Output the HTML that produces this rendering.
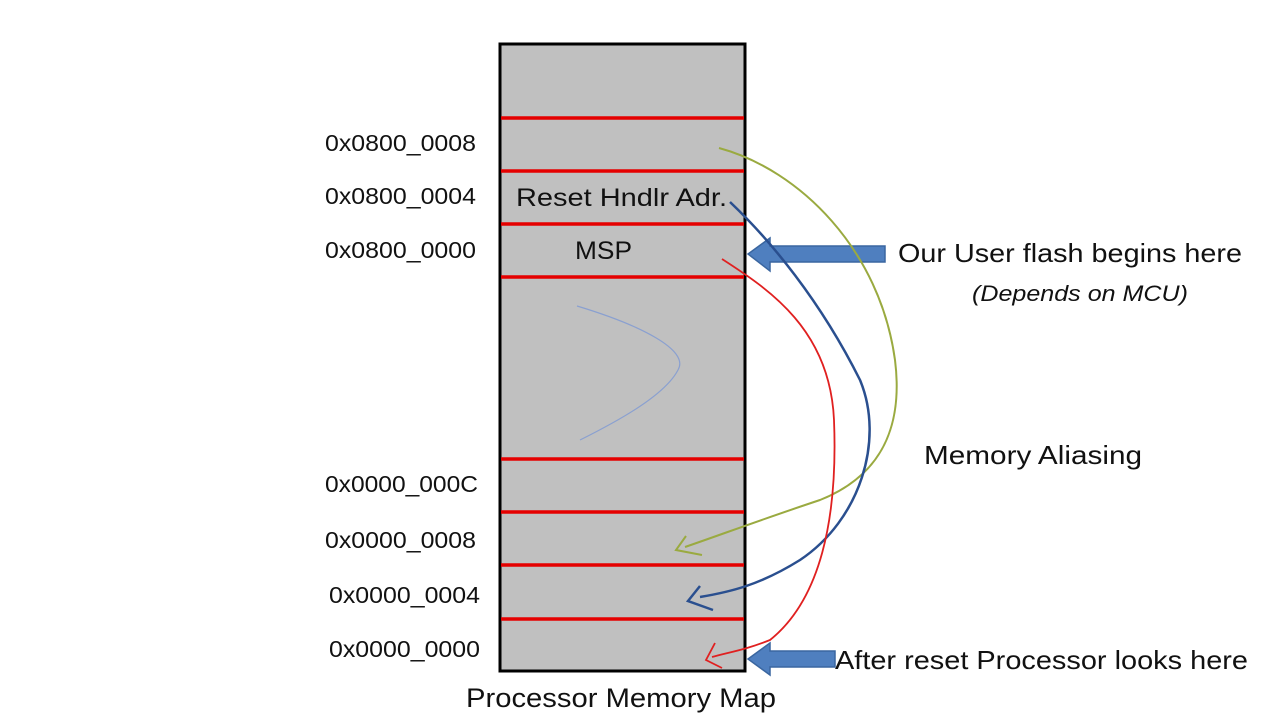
<!DOCTYPE html>
<html><head><meta charset="utf-8"><style>
body{margin:0;background:#fff;}
svg{display:block}
text{font-family:"Liberation Sans",sans-serif;fill:#111;}
</style></head><body>
<svg width="1280" height="719" viewBox="0 0 1280 719">
<rect x="0" y="0" width="1280" height="719" fill="#fff"/>
<rect x="500" y="44" width="245" height="627" fill="#c0c0c0" stroke="#000" stroke-width="3"/>
<g stroke="#e50000" stroke-width="3.5">
<line x1="501" y1="118" x2="744" y2="118"/>
<line x1="501" y1="171" x2="744" y2="171"/>
<line x1="501" y1="224" x2="744" y2="224"/>
<line x1="501" y1="277" x2="744" y2="277"/>
<line x1="501" y1="459" x2="744" y2="459"/>
<line x1="501" y1="512" x2="744" y2="512"/>
<line x1="501" y1="565" x2="744" y2="565"/>
<line x1="501" y1="619" x2="744" y2="619"/>
</g>
<g font-size="23" lengthAdjust="spacingAndGlyphs">
<text x="325" y="151" textLength="151" lengthAdjust="spacingAndGlyphs">0x0800_0008</text>
<text x="325" y="204" textLength="151" lengthAdjust="spacingAndGlyphs">0x0800_0004</text>
<text x="325" y="258" textLength="151" lengthAdjust="spacingAndGlyphs">0x0800_0000</text>
<text x="325" y="492" textLength="153" lengthAdjust="spacingAndGlyphs">0x0000_000C</text>
<text x="325" y="548" textLength="151" lengthAdjust="spacingAndGlyphs">0x0000_0008</text>
<text x="329" y="603" textLength="151" lengthAdjust="spacingAndGlyphs">0x0000_0004</text>
<text x="329" y="657" textLength="151" lengthAdjust="spacingAndGlyphs">0x0000_0000</text>
</g>
<text x="516" y="206" font-size="25" textLength="211" lengthAdjust="spacingAndGlyphs">Reset Hndlr Adr.</text>
<text x="575" y="259" font-size="25" textLength="57" lengthAdjust="spacingAndGlyphs">MSP</text>
<text x="898" y="262" font-size="26" textLength="344" lengthAdjust="spacingAndGlyphs">Our User flash begins here</text>
<text x="972" y="301" font-size="22" font-style="italic" textLength="216" lengthAdjust="spacingAndGlyphs">(Depends  on MCU)</text>
<text x="924" y="464" font-size="26" textLength="218" lengthAdjust="spacingAndGlyphs">Memory Aliasing</text>
<text x="835" y="669" font-size="26" textLength="413" lengthAdjust="spacingAndGlyphs">After reset Processor looks here</text>
<text x="466" y="707" font-size="27" textLength="310" lengthAdjust="spacingAndGlyphs">Processor Memory Map</text>
<!-- block arrows -->
<path d="M885,246 L770,246 L770,238 L748,254 L770,271 L770,262 L885,262 Z" fill="#4f7fbf" stroke="#3a66a0" stroke-width="1.5"/>
<path d="M835,651 L770,651 L770,643 L748,659 L770,675 L770,667 L835,667 Z" fill="#4f7fbf" stroke="#3a66a0" stroke-width="1.5"/>
<!-- hand drawn curves -->
<path d="M577,306 C640,325 690,350 678,370 C665,395 620,420 580,440" fill="none" stroke="#8aa0d0" stroke-width="1.2"/>
<path d="M719,148 C800,170 880,250 895,360 C905,440 870,480 820,500 C760,520 720,535 685,547 M686,536 L676,550 L702,555" fill="none" stroke="#9aaa40" stroke-width="2"/>
<path d="M730,202 C770,240 820,300 860,380 C885,440 860,520 800,560 C760,585 730,592 700,597 M700,586 L688,601 L713,610" fill="none" stroke="#2a4f8f" stroke-width="2.5"/>
<path d="M722,259 C770,290 830,330 834,420 C838,520 820,600 770,640 C745,650 730,652 712,657 M715,643 L706,660 L722,668" fill="none" stroke="#e02020" stroke-width="1.8"/>
</svg>
</body></html>
